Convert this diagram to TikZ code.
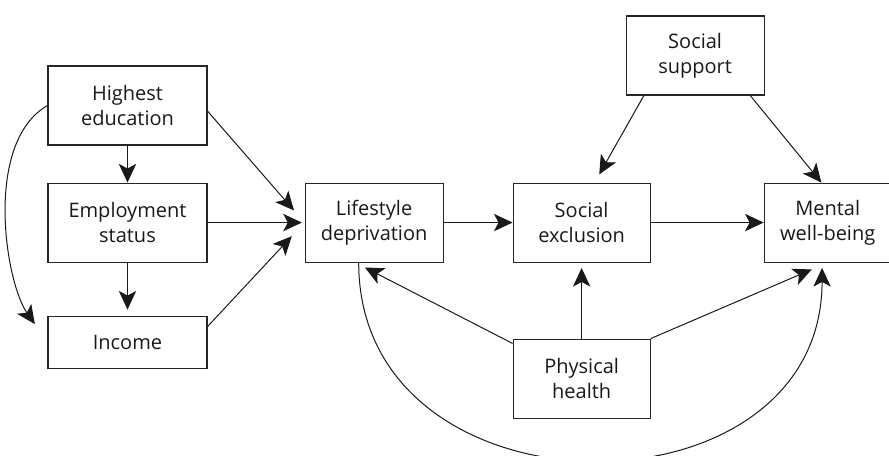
\documentclass[tikz,border=0pt]{standalone}
\usepackage{fontspec}
\setmainfont{Open Sans}
\usetikzlibrary{arrows.meta}
\usetikzlibrary{calc,positioning}
\newcommand{\createlength}[2]{\newlength{#1}\setlength{#1}{#2}}

\begin{document}
\begin{tikzpicture}[
  factor/.style={draw=black!85, line width=0.8pt, align=center, inner sep=0,
    minimum width=#1, minimum height=59.25pt, text=black!90,
    font=\fontsize{15pt}{18.75pt}\selectfont},
  link/.style={-{Stealth[length=14pt,width=13pt,inset=3.5pt]}, line width=0.75pt, black!90}]
\createlength{\widecolwidth}{119.25pt}
\createlength{\boxheight}{59.25pt}
\useasboundingbox (0,0) rectangle (666.75pt,-342pt);
%%%%%%%%%%%%%%%%%%%%%%%%%%%%
%%%%% Background column %%%%
%%%%%%%%%%%%%%%%%%%%%%%%%%%%
\node[factor=\widecolwidth] (educ) at (95.625pt,-79.125pt) {Highest\\education};
\node[factor=\widecolwidth, below=27.75pt of educ] (empl) {Employment\\status};
\node[factor=\widecolwidth, minimum height=39pt, below=39.75pt of empl] (inc) {Income};
\draw[link] (educ) -- (empl);
\draw[link, shorten >=4.5pt] (empl) -- (inc);
\draw[link, shorten >=16.5pt] (educ.west) to [out=210,in=125,looseness=0.8] (inc.west);
%%%%%%%%%%%%%%%%%%%%%%%%%%%%
%%%%%%%%% Main row %%%%%%%%%
%%%%%%%%%%%%%%%%%%%%%%%%%%%%
\node[factor=103.5pt, right=72.75pt of empl] (depr) {Lifestyle\\deprivation};
\node[factor=102.75pt, right=51.75pt of depr] (excl) {Social\\exclusion};
\node[factor=95.25pt, right=84.75pt of excl] (well) {Mental\\well-being};
\draw[link, shorten >=12pt] (educ.-4) -- (depr.west);
\draw[link, shorten >=2pt] (empl) -- (depr);
\draw[link, shorten >=14pt] (inc.11) -- (depr.west);
\draw[link] (depr) -- (excl);
\draw[link] (excl) -- (well);
%%%%%%%%%%%%%%%%%%%%%%%%%%%%
%%%%%%%% Moderators %%%%%%%%
%%%%%%%%%%%%%%%%%%%%%%%%%%%%
\node[factor=103.5pt, above=65.25pt of excl, xshift=85.125pt] (supp) {Social\\support};
\node[factor=102.75pt, below=57pt of excl] (phys) {Physical\\health};
\draw[link, shorten >=7pt] (supp.218) -- (excl.72);
\draw[link] (supp.-36) -- (well.99);
\draw[link, shorten >=4pt] (phys) -- (excl);
\draw[link, shorten >=13pt] (phys.north east) -- (well.south);
\draw[link, shorten >=8pt] (phys.153) -- (depr.245);
\draw[link, shorten >=4pt] (depr.249) to [out=-90,in=-90,looseness=1.45] (well.262);
\end{tikzpicture}
\end{document}
